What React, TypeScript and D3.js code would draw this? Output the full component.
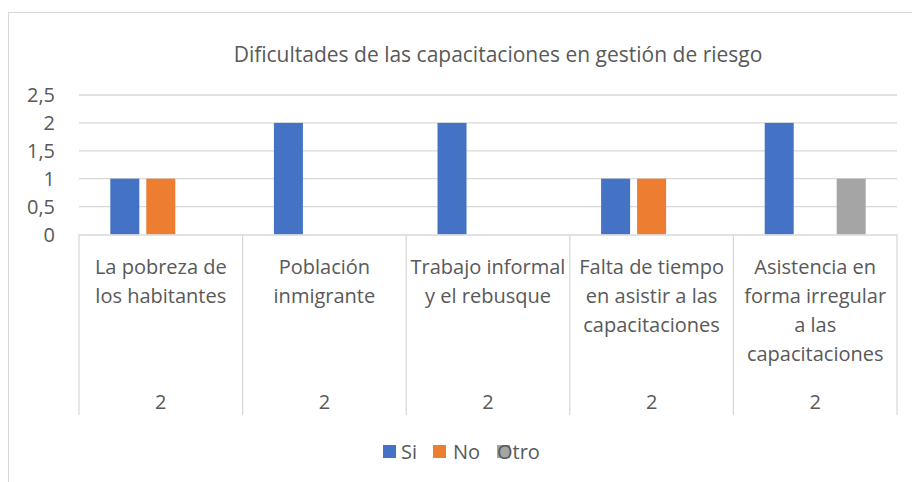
import React from 'react';
import * as d3 from 'd3';

// chart data
const categories = ['La pobreza de los habitantes', 'Población inmigrante', 'Trabajo informal y el rebusque', 'Falta de tiempo en asistir a las capacitaciones', 'Asistencia en forma irregular a las capacitaciones'];
const categoryLines = [
  ['La pobreza de', 'los habitantes'],
  ['Población', 'inmigrante'],
  ['Trabajo informal', 'y el rebusque'],
  ['Falta de tiempo', 'en asistir a las', 'capacitaciones'],
  ['Asistencia en', 'forma irregular', 'a las', 'capacitaciones'],
];
const groupLabels = ['2', '2', '2', '2', '2'];
const seriesNames = ['Si', 'No', 'Otro'];
const siValues = [1, 2, 2, 1, 2];
const noValues = [1, 0, 0, 1, 0];
const otroValues = [0, 0, 0, 0, 1];
const yTicks = [0, 0.5, 1, 1.5, 2, 2.5];

const colors = ['#4472C4', '#ED7D31', '#A5A5A5'];
const textColor = '#595959';
const gridColor = '#D9D9D9';
const font = '"Open Sans", sans-serif';
const fs = 20;

const width = 912;
const height = 482;
const plot = { left: 79, right: 897, top: 95, bottom: 234.5 };

const App: React.FC = () => {
  const series = [siValues, noValues, otroValues];

  const x = d3.scaleBand<string>()
    .domain(categories)
    .range([plot.left, plot.right]);

  const xInner = d3.scaleBand<string>()
    .domain(seriesNames)
    .range([0, x.bandwidth()])
    .paddingInner(0.194)
    .paddingOuter(0.87);

  const y = d3.scaleLinear()
    .domain([0, 2.5])
    .range([plot.bottom, plot.top]);

  const fmt = (v: number) => String(v).replace('.', ',');
  const boxBottom = 415;

  return (
    <svg width={width} height={height} style={{ position: 'absolute', left: 0, top: 0, background: '#fff' }} fontFamily={font}>
      <rect x={8.5} y={12.5} width={width + 10} height={height} fill="#fff" stroke={gridColor} />

      <text x={498} y={61.5} textAnchor="middle" fontSize={21} fill={textColor}>
        Dificultades de las capacitaciones en gestión de riesgo
      </text>

      {/* gridlines */}
      {yTicks.filter(t => t > 0).map(t => (
        <line key={t} x1={plot.left} x2={plot.right} y1={y(t)} y2={y(t)} stroke={gridColor} strokeWidth={1.3} />
      ))}

      {/* y tick labels */}
      {yTicks.map(t => (
        <text key={t} x={55} y={y(t) + 7} textAnchor="end" fontSize={fs} fill={textColor}>{fmt(t)}</text>
      ))}

      {/* bars */}
      {categories.map((c, i) => (
        <g key={c} transform={`translate(${x(c)},0)`}>
          {seriesNames.map((s, j) => series[j][i] > 0 && (
            <rect key={s} x={xInner(s)} y={y(series[j][i])} width={xInner.bandwidth()}
              height={y(0) - y(series[j][i])} fill={colors[j]} />
          ))}
        </g>
      ))}

      {/* category axis boxes */}
      <line x1={plot.left} x2={plot.right} y1={plot.bottom + 0.5} y2={plot.bottom + 0.5} stroke={gridColor} strokeWidth={1.3} />
      {[...categories.map(c => x(c) as number), plot.right].map((vx, i) => (
        <line key={i} x1={vx} x2={vx} y1={plot.bottom} y2={boxBottom} stroke={gridColor} strokeWidth={1.3} />
      ))}
      {categories.map((c, i) => (
        <g key={c}>
          {categoryLines[i].map((ln, k) => (
            <text key={k} x={(x(c) as number) + x.bandwidth() / 2} y={274 + k * 29} textAnchor="middle"
              fontSize={fs} fill={textColor}>{ln}</text>
          ))}
          <text x={(x(c) as number) + x.bandwidth() / 2} y={408.5} textAnchor="middle" fontSize={fs} fill={textColor}>
            {groupLabels[i]}
          </text>
        </g>
      ))}

      {/* legend */}
      {[{ sx: 383, tx: 401 }, { sx: 433, tx: 453 }, { sx: 497, tx: 497 }].map((p, j) => (
        <g key={seriesNames[j]}>
          <rect x={p.sx} y={445} width={13} height={13} fill={colors[j]} />
          <text x={p.tx} y={459} fontSize={fs} fill={textColor}>{seriesNames[j]}</text>
        </g>
      ))}
    </svg>
  );
};

export default App;
